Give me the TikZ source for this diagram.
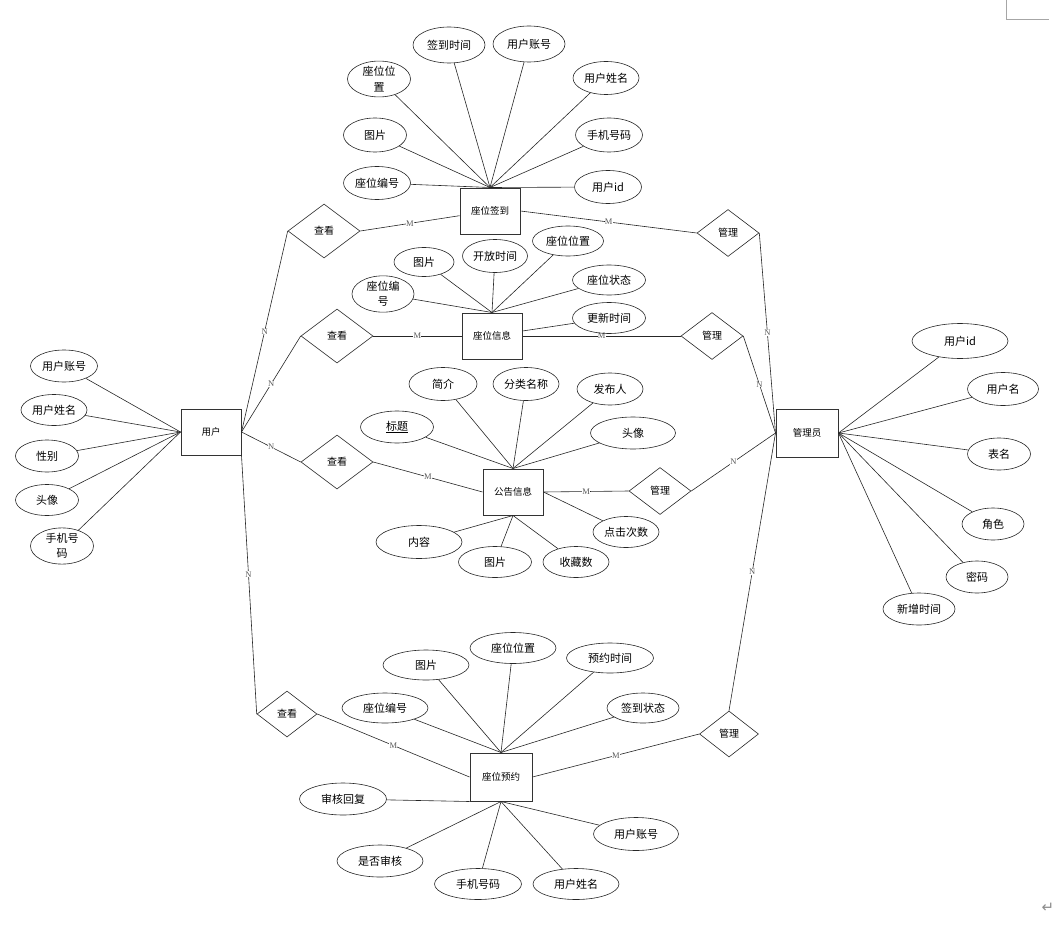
\documentclass[tikz,border=0pt]{standalone}
\usepackage{fontspec}
\setmainfont{Noto Sans CJK SC}
\newfontfamily\lblfont{Liberation Serif}
\newfontfamily\symfont{DejaVu Sans}
\usetikzlibrary{shapes.geometric}
\begin{document}
\begin{tikzpicture}[x=1pt,y=-1pt,
  line/.style={draw=black!85, line width=0.6pt},
  ent/.style={draw=black!80, line width=1pt, rectangle, minimum width=60pt, minimum height=46pt, inner sep=0pt, font=\fontsize{9.5}{11}\selectfont},
  rel/.style={draw=black!85, line width=0.6pt, diamond, minimum width=72pt, minimum height=54pt, inner sep=0pt, font=\fontsize{10}{12}\selectfont},
  relb/.style={rel, minimum width=62pt, minimum height=47pt},
  attr/.style={draw=black!85, line width=0.6pt, ellipse, minimum width=66pt, minimum height=33pt, inner sep=0pt, align=center, font=\fontsize{11}{15.5}\selectfont},
  lbl/.style={font=\lblfont\fontsize{8.5}{8.5}\selectfont, text=black!65, fill=white, inner sep=0.2pt}
]
\useasboundingbox (0,0) rectangle (1059,936);

% page decorations
\draw[black!35, line width=0.8pt] (1006,0) -- (1006,19) -- (1049,19);
\node[text=black!45, font=\symfont\fontsize{15}{15}\selectfont, inner sep=0pt] (ret) at (1048,908) {↵};

% entities
\node[ent] (qd) at (490,211) {座位签到};
\node[ent] (xx) at (492,336) {座位信息};
\node[ent] (gg) at (513,492) {公告信息};
\node[ent] (yh) at (211,432) {用户};
\node[ent, minimum width=62pt, minimum height=48pt] (gly) at (807,433) {管理员};
\node[ent, minimum width=62pt, minimum height=48pt] (yy) at (501,777) {座位预约};

% relations
\node[rel] (ck1) at (324,231) {查看};
\node[rel] (ck2) at (337,336) {查看};
\node[rel] (ck3) at (337,462) {查看};
\node[rel, minimum width=60pt, minimum height=46pt] (ck4) at (287,714) {查看};
\node[relb] (gl1) at (728,233) {管理};
\node[relb] (gl2) at (712,336) {管理};
\node[relb] (gl3) at (660,491) {管理};
\node[relb, minimum width=59pt, minimum height=46pt] (gl4) at (729,734) {管理};

% relationship connectors
\draw[line] (yh.east) -- node[lbl, pos=0.5] {N} (ck1.west);
\draw[line] (yh.east) -- node[lbl, pos=0.5] {N} (ck2.west);
\draw[line] (yh.east) -- node[lbl, pos=0.5] {N} (ck3.west);
\draw[line] (yh.south east) -- node[lbl, pos=0.46] {N} (ck4.west);
\draw[line] (ck1.east) -- node[lbl] {M} (qd);
\draw[line] (ck2.east) -- node[lbl] {M} (xx.west);
\draw[line] (ck3.east) -- node[lbl] {M} (gg.west);
\draw[line] (ck4.east) -- node[lbl] {M} (yy.west);
\draw[line] (qd.east) -- node[lbl] {M} (gl1.west);
\draw[line] (xx.east) -- node[lbl] {M} (gl2.west);
\draw[line] (gg.east) -- node[lbl] {M} (gl3.west);
\draw[line] (yy.east) -- node[lbl] {M} (gl4.west);
\draw[line] (gl1.east) -- node[lbl] {N} (gly.west);
\draw[line] (gl2.east) -- node[lbl] {N} (gly.west);
\draw[line] (gl3.east) -- node[lbl] {N} (gly.west);
\draw[line] (gl4.north) -- node[lbl] {N} (gly.west);

% 座位签到 attributes
\node[attr, minimum width=72pt, minimum height=36pt] (q1) at (449,45) {签到时间};
\node[attr, minimum width=72pt, minimum height=36pt] (q2) at (529,44) {用户账号};
\node[attr, minimum width=63pt] (q3) at (379,79) {座位位\\置};
\node[attr] (q4) at (606,78) {用户姓名};
\node[attr, minimum width=63pt, minimum height=34pt] (q5) at (375,135) {图片};
\node[attr, minimum width=67pt, minimum height=34pt] (q6) at (609,135) {手机号码};
\node[attr, minimum width=67pt] (q7) at (377,183) {座位编号};
\node[attr, minimum width=67pt] (q8) at (608,187) {用户id};
\foreach \a in {q1,q2,q3,q4,q5,q6,q7,q8} \draw[line] (\a) -- (qd.north);

% 座位信息 attributes
\node[attr, minimum width=60pt, minimum height=29pt] (x1) at (424,262) {图片};
\node[attr, minimum width=65pt] (x2) at (495,256) {开放时间};
\node[attr, minimum width=71pt, minimum height=30pt] (x3) at (568,241) {座位位置};
\node[attr, minimum width=62pt] (x4) at (383,294) {座位编\\号};
\node[attr, minimum width=73pt, minimum height=30pt] (x5) at (609,280) {座位状态};
\node[attr, minimum width=73pt, minimum height=31pt] (x6) at (609,318) {更新时间};
\foreach \a in {x1,x2,x3,x4,x5} \draw[line] (\a) -- (xx.north);
\draw[line] (x6) -- ([yshift=5pt]xx.east);

% 公告信息 attributes
\node[attr, minimum width=68pt] (g1) at (443,384) {简介};
\node[attr] (g2) at (526,384) {分类名称};
\node[attr, minimum height=32pt] (g3) at (610,389) {发布人};
\node[attr, minimum width=73pt, minimum height=32pt] (g4) at (397,427) {\underline{标题}};
\node[attr, minimum width=85pt, minimum height=32pt] (g5) at (633,433) {头像};
\node[attr, minimum width=86pt] (g6) at (419,542) {内容};
\node[attr, minimum width=73pt, minimum height=31pt] (g7) at (495,562) {图片};
\node[attr, minimum width=66pt, minimum height=31pt] (g8) at (576,562) {收藏数};
\node[attr, minimum width=66pt, minimum height=31pt] (g9) at (626,532) {点击次数};
\foreach \a in {g1,g2,g3,g4,g5} \draw[line] (\a) -- (gg.north);
\foreach \a in {g6,g7,g8} \draw[line] (\a) -- (gg.south);
\draw[line] (g9) -- (gg.east);

% 座位预约 attributes
\node[attr, minimum width=86pt, minimum height=30pt] (y1) at (426,665) {图片};
\node[attr, minimum width=86pt, minimum height=31pt] (y2) at (513,648) {座位位置};
\node[attr, minimum width=87pt, minimum height=30pt] (y3) at (610,658) {预约时间};
\node[attr, minimum width=86pt, minimum height=30pt] (y4) at (385,708) {座位编号};
\node[attr, minimum width=72pt, minimum height=30pt] (y5) at (643,708) {签到状态};
\node[attr, minimum width=87pt, minimum height=32pt] (y6) at (343,799) {审核回复};
\node[attr, minimum width=85pt, minimum height=33pt] (y7) at (636,834) {用户账号};
\node[attr, minimum width=86pt, minimum height=32pt] (y8) at (380,861) {是否审核};
\node[attr, minimum width=87pt, minimum height=31pt] (y9) at (478,884) {手机号码};
\node[attr, minimum width=86pt, minimum height=31pt] (y10) at (576,884) {用户姓名};
\foreach \a in {y1,y2,y3,y4,y5} \draw[line] (\a) -- (yy.north);
\draw[line] (y6) -- (yy.south west);
\foreach \a in {y7,y8,y9,y10} \draw[line] (\a) -- (yy.south);

% 管理员 attributes
\node[attr, minimum width=96pt, minimum height=35pt] (m1) at (960,341) {用户id};
\node[attr, minimum width=71pt] (m2) at (1003,389) {用户名};
\node[attr, minimum width=63pt, minimum height=32pt] (m3) at (999,454) {表名};
\node[attr, minimum width=62pt, minimum height=32pt] (m4) at (993,524) {角色};
\node[attr, minimum width=62pt, minimum height=32pt] (m5) at (977,577) {密码};
\node[attr, minimum width=72pt, minimum height=32pt] (m6) at (919,609) {新增时间};
\foreach \a in {m1,m2,m3,m4,m5,m6} \draw[line] (\a) -- (gly.east);

% 用户 attributes
\node[attr, minimum width=67pt, minimum height=32pt] (u1) at (64,366) {用户账号};
\node[attr, minimum width=66pt, minimum height=31pt] (u2) at (54,410) {用户姓名};
\node[attr, minimum width=63pt, minimum height=32pt] (u3) at (47,456) {性别};
\node[attr, minimum width=63pt, minimum height=31pt] (u4) at (47,500) {头像};
\node[attr, minimum width=63pt] (u5) at (62,546) {手机号\\码};
\foreach \a in {u1,u2,u3,u4,u5} \draw[line] (\a) -- (yh.west);
\end{tikzpicture}
\end{document}
